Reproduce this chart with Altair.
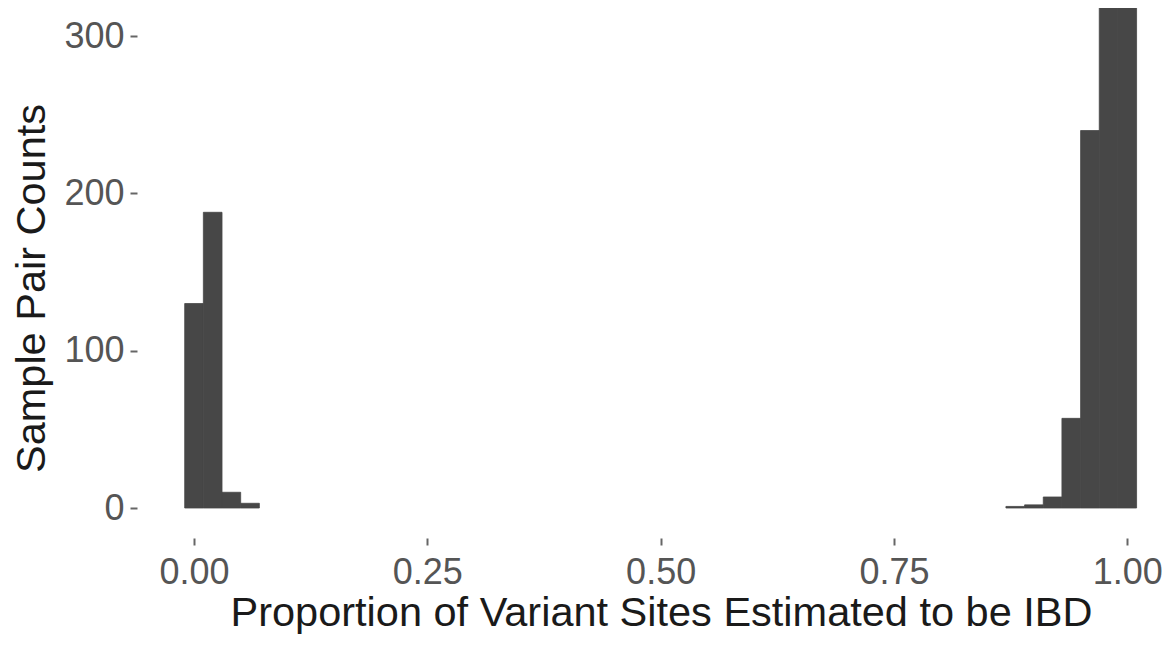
import altair as alt
import pandas as pd

# Histogram bins (centres) and counts
bin_centers = [0.00, 0.02, 0.04, 0.06, 0.88, 0.90, 0.92, 0.94, 0.96, 0.98, 1.00]
pair_counts = [130, 188, 10, 3, 1, 2, 7, 57, 240, 382, 350]
bin_width = 0.02

x_ticks = [0.0, 0.25, 0.5, 0.75, 1.0]
y_ticks = [0, 100, 200, 300]

df = pd.DataFrame({"center": bin_centers, "count": pair_counts})

FONT = "Liberation Sans"
BAR = "#474747"

chart = (
    alt.Chart(df)
    .transform_calculate(
        x0=f"datum.center - {bin_width / 2}",
        x1=f"datum.center + {bin_width / 2}",
        y0="0",
    )
    .mark_rect(color=BAR, stroke=BAR, strokeWidth=0.8, clip=True)
    .encode(
        x=alt.X(
            "x0:Q",
            scale=alt.Scale(domain=[-0.0611, 1.0383], nice=False, zero=False),
            axis=alt.Axis(
                values=x_ticks,
                format=".2f",
                title="Proportion of Variant Sites Estimated to be IBD",
                labelPadding=10,
                titleX=524,
                titleY=75,
                titleAlign="center",
                titleBaseline="middle",
            ),
        ),
        x2="x1:Q",
        y=alt.Y(
            "count:Q",
            scale=alt.Scale(domain=[-19.07, 317.9], nice=False, zero=False),
            axis=alt.Axis(
                values=y_ticks,
                format="d",
                title="Sample Pair Counts",
                labelPadding=6,
                titleX=-105,
                titleY=280,
                titleAngle=-90,
                titleAlign="center",
                titleBaseline="middle",
            ),
        ),
        y2="y0:Q",
    )
    .properties(
        width=1026,
        height=530,
        autosize=alt.AutoSizeParams(type="none"),
        padding={"left": 129, "top": 0, "right": 0, "bottom": 101},
        background="white",
    )
    .configure_view(strokeWidth=0)
    .configure_axis(
        domain=False,
        grid=False,
        labelFont=FONT,
        labelFontSize=36,
        labelColor="#555555",
        titleFont=FONT,
        titleFontSize=41.5,
        titleFontWeight="normal",
        titleColor="#1a1a1a",
        tickColor="#666666",
        tickWidth=2,
        tickSize=7,
    )
)

chart.save("out.html", embed_options={"renderer": "svg", "actions": False})
